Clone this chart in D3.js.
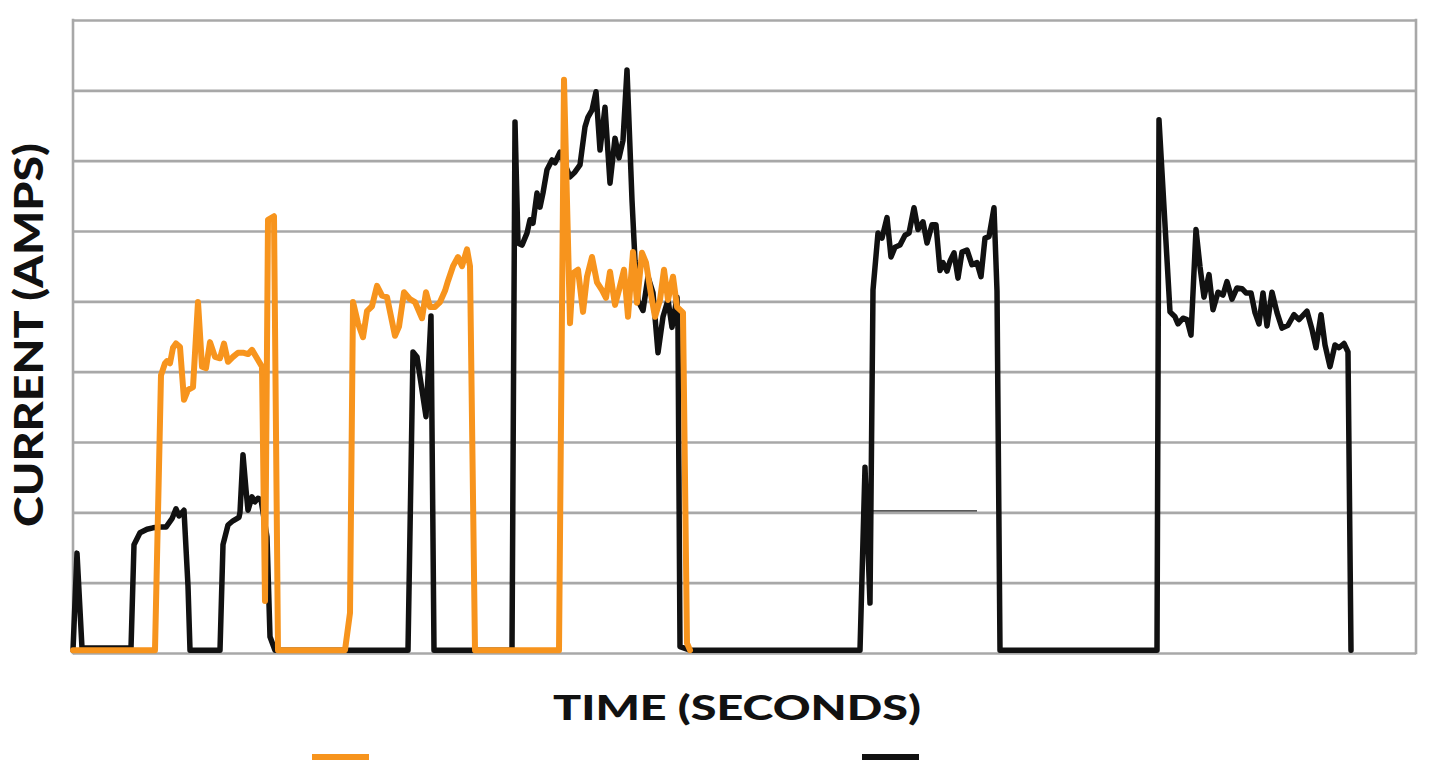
<!DOCTYPE html>
<html>
<head>
<meta charset="utf-8">
<script src="https://cdn.jsdelivr.net/npm/d3@7"></script>
<style>
  html, body { margin: 0; padding: 0; background: #ffffff; }
  svg { display: block; }
</style>
</head>
<body>
<svg id="chart" width="1431" height="770"></svg>
<script>
// ---- Data (time in seconds, current in amps) ----
const seriesNames = ["Orange series", "Black series"];
const yTicks = [0, 10, 20, 30, 40, 50, 60, 70, 80, 90];
const timeDomain = [0, 134.3];
const currentDomain = [0, 90];

const blackSeries = [
  [0, 0.4], [0.4, 14.2], [0.9, 0.7], [5.8, 0.7], [6.1, 15.4], [6.7, 17.1], [7.4, 17.6],
  [8.0, 17.8], [8.7, 17.9], [9.3, 17.9], [9.9, 19.1], [10.3, 20.5], [10.6, 19.5], [11.1, 20.3],
  [11.5, 9.5], [11.7, 0.4], [14.7, 0.4], [15.0, 15.4], [15.5, 18.2], [16.0, 18.8], [16.6, 19.3],
  [16.7, 20.0], [17.0, 28.2], [17.3, 23.2], [17.5, 20.3], [17.9, 22.2], [18.2, 21.5], [18.5, 22.0],
  [18.8, 21.8], [19.4, 16.5], [19.7, 2.3], [20.2, 0.4],
  [33.5, 0.4], [34.0, 42.8], [34.4, 42.1], [35.3, 33.6], [35.8, 47.9], [36.1, 0.4],
  [43.9, 0.4], [44.2, 75.5], [44.5, 58.3], [44.9, 58.0], [45.4, 59.7], [45.7, 61.6], [46.0, 61.1],
  [46.4, 65.4], [46.7, 63.4], [47.0, 65.4], [47.4, 68.7], [47.9, 70.1], [48.2, 69.7], [48.7, 71.2],
  [49.7, 67.7], [50.2, 68.4], [50.7, 69.4], [51.2, 74.8], [51.5, 76.2], [51.9, 77.2], [52.3, 79.8],
  [52.7, 71.5], [53.2, 77.6], [53.7, 66.8], [54.2, 73.2], [54.6, 70.4], [55.0, 72.9], [55.4, 82.9],
  [55.9, 64.4], [56.2, 55.8], [56.5, 50.1], [57.0, 48.7], [57.5, 53.5], [58.0, 51.2], [58.5, 42.7],
  [59.0, 47.8], [59.5, 50.2], [59.9, 46.3], [60.4, 50.6], [60.5, 46.0], [60.7, 0.9], [61.7, 0.4],
  [78.7, 0.4], [79.2, 26.4], [79.7, 7.1], [80.0, 51.6], [80.5, 59.7], [80.9, 59.0], [81.4, 61.9],
  [81.8, 56.3], [82.2, 57.7], [82.7, 58.0], [83.2, 59.4], [83.6, 59.7], [84.1, 63.3], [84.5, 60.2],
  [85.0, 61.3], [85.4, 58.3], [85.9, 60.9], [86.3, 60.9], [86.7, 54.4], [87.0, 55.5], [87.4, 54.3],
  [87.7, 55.7], [88.1, 56.9], [88.5, 53.3], [88.9, 57.0], [89.4, 57.3], [89.9, 55.2], [90.4, 55.5],
  [90.8, 53.5], [91.2, 59.0], [91.6, 59.2], [92.1, 63.3], [92.4, 51.5], [92.7, 0.4],
  [108.4, 0.4], [108.6, 75.8], [109.7, 48.5], [110.2, 47.8], [110.5, 46.8], [111.0, 47.6],
  [111.4, 47.4], [111.8, 45.2], [112.3, 60.2], [112.7, 54.9], [113.1, 50.6], [113.6, 53.8],
  [114.0, 48.8], [114.5, 51.3], [115.0, 50.9], [115.4, 52.8], [115.9, 50.3], [116.4, 51.9],
  [116.9, 51.8], [117.3, 51.2], [117.8, 51.2], [118.2, 48.4], [118.6, 46.8], [119.0, 51.2],
  [119.4, 46.5], [119.9, 51.3], [120.4, 48.4], [120.9, 46.2], [121.5, 46.6], [122.1, 48.1],
  [122.6, 47.4], [123.4, 48.6], [123.9, 46.0], [124.3, 43.4], [124.8, 48.1], [125.2, 43.8],
  [125.7, 40.7], [126.2, 43.8], [126.6, 43.4], [127.1, 44.0], [127.5, 42.8], [127.8, 0.4]
];

const orangeSeries = [
  [0, 0.4], [8.2, 0.4], [8.8, 39.5], [9.2, 41.2], [9.4, 41.5], [9.7, 41.2], [10.0, 43.4],
  [10.3, 44.0], [10.7, 43.5], [11.1, 36.0], [11.5, 37.4], [12.0, 37.8], [12.5, 49.9], [12.9, 40.7],
  [13.3, 40.5], [13.7, 44.2], [14.2, 42.1], [14.7, 41.9], [15.1, 44.0], [15.5, 41.4], [16.0, 42.1],
  [16.5, 42.7], [17.0, 42.7], [17.5, 42.5], [17.9, 43.1], [18.4, 41.9], [18.9, 40.7], [19.2, 7.4],
  [19.5, 61.6], [20.1, 62.1], [20.5, 0.4],
  [27.2, 0.4], [27.7, 5.7], [28.0, 49.9], [28.5, 46.9], [29.0, 44.9], [29.4, 48.6], [29.9, 49.3],
  [30.4, 52.2], [30.9, 50.8], [31.4, 50.6], [32.2, 45.1], [32.6, 46.4], [33.1, 51.3], [33.7, 50.3],
  [34.2, 49.9], [34.9, 47.6], [35.3, 51.3], [35.7, 49.2], [36.2, 49.2], [36.7, 49.9], [37.2, 51.5],
  [37.5, 52.9], [38.0, 55.0], [38.5, 56.3], [38.9, 55.0], [39.4, 57.4], [39.7, 55.0], [40.2, 0.4],
  [48.6, 0.4], [49.1, 81.5], [49.7, 46.9], [50.0, 54.0], [50.5, 54.5], [51.0, 48.5], [51.4, 53.5],
  [51.9, 56.3], [52.4, 52.7], [52.9, 51.6], [53.3, 50.5], [53.7, 54.2], [54.2, 49.5], [54.6, 51.6],
  [55.1, 54.5], [55.5, 47.8], [56.0, 57.0], [56.4, 49.8], [56.9, 56.9], [57.3, 55.5], [57.8, 51.0],
  [58.2, 47.8], [58.7, 50.2], [59.1, 54.5], [59.5, 50.2], [60.0, 53.5], [60.4, 49.2], [61.0, 48.4],
  [61.4, 1.4], [61.7, 0.4]
];

// stray thin trace visible in the original figure
const thinTrace = [[80.0, 20.2], [90.4, 20.2]];

const xTitle = "TIME (SECONDS)";
const yTitle = "CURRENT (AMPS)";

// ---- Layout ----
const margin = { left: 73, right: 1416, top: 20, bottom: 653 };
const svg = d3.select("#chart");

const x = d3.scaleLinear().domain(timeDomain).range([margin.left, margin.right]);
const y = d3.scaleLinear().domain(currentDomain).range([margin.bottom, margin.top]);

const gridColor = "#a8a8a8";

// horizontal gridlines via axis
const gy = svg.append("g")
  .attr("transform", `translate(${margin.left},0)`)
  .call(d3.axisLeft(y).tickValues(yTicks).tickSize(-(margin.right - margin.left)).tickFormat(""));
gy.select(".domain").remove();
gy.selectAll(".tick line").attr("stroke", gridColor).attr("stroke-width", 2.6);

// left and right frame lines
svg.append("line")
  .attr("x1", x(timeDomain[0])).attr("x2", x(timeDomain[0]))
  .attr("y1", y(currentDomain[1]) - 1.3).attr("y2", y(currentDomain[0]) + 1.3)
  .attr("stroke", gridColor).attr("stroke-width", 2.6);
svg.append("line")
  .attr("x1", x(timeDomain[1])).attr("x2", x(timeDomain[1]))
  .attr("y1", y(currentDomain[1]) - 1.3).attr("y2", y(currentDomain[0]) + 1.3)
  .attr("stroke", gridColor).attr("stroke-width", 2.6);

const line = d3.line().x(d => x(d[0])).y(d => y(d[1])).curve(d3.curveLinear);

svg.append("path")
  .datum(thinTrace)
  .attr("d", line)
  .attr("fill", "none")
  .attr("stroke", "#222")
  .attr("stroke-width", 1.2);

svg.append("path")
  .datum(blackSeries)
  .attr("d", line)
  .attr("fill", "none")
  .attr("stroke", "#111111")
  .attr("stroke-width", 5.5)
  .attr("stroke-linejoin", "round")
  .attr("stroke-linecap", "round");

svg.append("path")
  .datum(orangeSeries)
  .attr("d", line)
  .attr("fill", "none")
  .attr("stroke", "#f7941d")
  .attr("stroke-width", 6)
  .attr("stroke-linejoin", "round")
  .attr("stroke-linecap", "round");

// Axis titles
svg.append("text")
  .attr("x", 737)
  .attr("y", 720)
  .attr("text-anchor", "middle")
  .attr("font-family", "Lato, 'DejaVu Sans', sans-serif")
  .attr("font-weight", 900)
  .attr("font-size", 34)
  .attr("textLength", 368)
  .attr("lengthAdjust", "spacingAndGlyphs")
  .attr("fill", "#111")
  .text(xTitle);

svg.append("text")
  .attr("transform", "translate(43,335) rotate(-90)")
  .attr("text-anchor", "middle")
  .attr("font-family", "Lato, 'DejaVu Sans', sans-serif")
  .attr("font-weight", 900)
  .attr("font-size", 40)
  .attr("textLength", 384)
  .attr("lengthAdjust", "spacingAndGlyphs")
  .attr("fill", "#111")
  .text(yTitle);

// Legend swatches
const legendColors = ["#f7941d", "#111111"];
const legendX = [312, 862];
svg.selectAll("line.legend")
  .data(seriesNames)
  .enter().append("line")
  .attr("class", "legend")
  .attr("x1", (d, i) => legendX[i])
  .attr("x2", (d, i) => legendX[i] + 57)
  .attr("y1", 757).attr("y2", 757)
  .attr("stroke", (d, i) => legendColors[i])
  .attr("stroke-width", 6);
</script>
</body>
</html>
